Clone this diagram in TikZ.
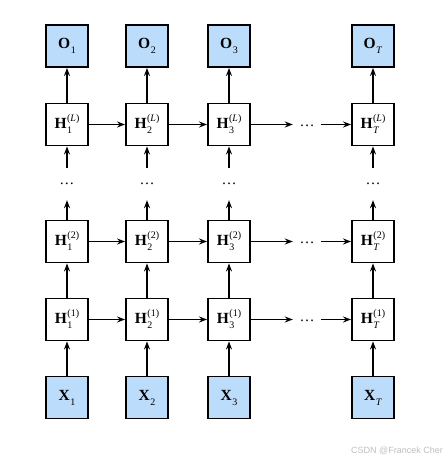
\documentclass[tikz,border=0pt]{standalone}
\usepackage{fontspec}
\setmainfont{Liberation Serif}
\newfontfamily\wmfont{Liberation Sans}
\usetikzlibrary{arrows.meta}
\definecolor{boxblue}{RGB}{187,220,251}
\definecolor{wmgray}{RGB}{190,190,190}
\newcommand{\lbl}[3]{\textbf{#1}\kern0.5pt\makebox[0pt][l]{\raisebox{-5pt}{\fontsize{10}{10}\selectfont #2}}\raisebox{7pt}{\fontsize{10}{10}\selectfont #3}}
\newcommand{\lblo}[2]{\textbf{#1}\kern0.5pt\raisebox{-5pt}{\fontsize{10}{10}\selectfont #2}}
\tikzset{
  cell/.style={draw, line width=1.9pt, minimum width=42pt, minimum height=42pt, inner sep=0pt, font=\fontsize{15.5}{15.5}\selectfont, anchor=center},
  io/.style={cell, fill=boxblue},
  hid/.style={cell, fill=white},
  conn/.style={line width=1.4pt, -{Stealth[length=8pt,width=6pt]}},
  hdots/.style={inner sep=0pt, minimum width=28pt, minimum height=10pt, font=\fontsize{15}{15}\selectfont},
  vdots/.style={inner sep=0pt, minimum width=20pt, minimum height=32pt, font=\fontsize{15}{15}\selectfont},
}
\begin{document}
\begin{tikzpicture}[x=1pt,y=1pt]
\useasboundingbox (0,0) rectangle (446,461);
\foreach \n/\x/\s in {1/67/1, 2/147/2, 3/229/3, T/373/\textit{T}} {
  \node[io]  (O\n)  at (\x, 461-46)    {\lblo{O}{\s}};
  \node[hid] (HL\n) at (\x, 461-124.5) {\lbl{H}{\s}{(\textit{L})}};
  \node[vdots] (V\n) at (\x, 461-184)  {\raisebox{-1.5pt}{\dots}};
  \node[hid] (HB\n) at (\x, 461-241.5) {\lbl{H}{\s}{(2)}};
  \node[hid] (HA\n) at (\x, 461-319.5) {\lbl{H}{\s}{(1)}};
  \node[io]  (X\n)  at (\x, 461-397.5) {\lblo{X}{\s}};
  \draw[conn] (X\n) -- (HA\n);
  \draw[conn] (HA\n) -- (HB\n);
  \draw[conn] (HB\n) -- (V\n);
  \draw[conn] (V\n) -- (HL\n);
  \draw[conn] (HL\n) -- (O\n);
}
\foreach \r/\y in {HL/124.5, HB/241.5, HA/319.5} {
  \node[hdots] (D\r) at (307, 461-\y) {\raisebox{-4.5pt}{\dots}};
  \draw[conn] (\r1) -- (\r2);
  \draw[conn] (\r2) -- (\r3);
  \draw[conn] (\r3) -- (D\r);
  \draw[conn] (D\r) -- (\r T);
}
\node[anchor=east, inner sep=0pt, text=wmgray, font=\wmfont\fontsize{9}{9}\selectfont] (wm) at (443, 461-451) {CSDN @Francek Cher};
\end{tikzpicture}
\end{document}
